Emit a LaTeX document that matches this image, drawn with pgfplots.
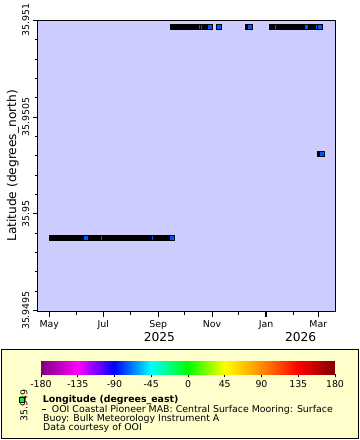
\documentclass[border=0pt]{standalone}
\usepackage{pgfplots}
\pgfplotsset{compat=1.18}
\usepackage{fontspec}
\setmainfont{DejaVu Sans}
\definecolor{plotbg}{RGB}{204,204,255}
\definecolor{legbg}{RGB}{255,255,204}
\definecolor{markblue}{RGB}{0,85,255}
\definecolor{mkgreen}{RGB}{0,255,0}
\newcommand{\sm}{\fontsize{9.4bp}{11bp}\selectfont}
\newcommand{\bg}{\fontsize{12.2bp}{14bp}\selectfont}
% x: days since 2025-05-01; y: latitude offset in micro-degrees above 35.949
\begin{document}
\begin{tikzpicture}
\path[use as bounding box] (0bp,0bp) rectangle (360bp,440bp);
% legend box
\draw[fill=legbg, line width=1bp] (1.5bp,1.7bp) rectangle (358bp,90.7bp);
% colour bar
\begin{axis}[at={(41bp,65.7bp)}, anchor=south west, width=294bp, height=13.6bp, scale only axis,
  xmin=-180, xmax=180, ymin=0, ymax=1,
  axis line style={draw=none}, ytick=\empty,
  xtick={-180,-135,-90,-45,0,45,90,135,180},
  xticklabels={-180,-135,-90,-45,0,45,90,135,180},
  xtick pos=bottom, tick align=outside, major tick length=3bp,
  tick style={black, line width=0.8bp},
  xticklabel style={font=\sm},
  colormap={erddap}{rgb255(0)=(128,0,128) rgb255(1)=(255,0,255) rgb255(2)=(0,0,255) rgb255(3)=(0,255,255) rgb255(4)=(0,255,0) rgb255(5)=(255,255,0) rgb255(6)=(255,140,0) rgb255(7)=(255,0,0) rgb255(8)=(128,0,0)},
  point meta min=-180, point meta max=180]
\addplot[surf, shader=interp, point meta=x] coordinates {
(-180,0) (-135,0) (-90,0) (-45,0) (0,0) (45,0) (90,0) (135,0) (180,0)

(-180,1) (-135,1) (-90,1) (-45,1) (0,1) (45,1) (90,1) (135,1) (180,1)
};
\end{axis}
% main axis
\begin{axis}[at={(37.7bp,128.3bp)}, anchor=south west, width=297.6bp, height=291.4bp, scale only axis,
  xmin=-13.1, xmax=323.2, ymin=494, ymax=2000,
  axis background/.style={fill=plotbg},
  axis line style={line width=1bp},
  xtick={0,61,123,184,304}, xticklabels={May,Jul,Sep,Nov,Mar},
  minor xtick={31,92,153,214,276},
  extra x ticks={245}, extra x tick labels={Jan},
  extra x tick style={tick style={line width=1.8bp}},
  ytick={500,1000,1500,2000}, yticklabels={35.9495,35.95,35.9505,35.951},
  minor ytick={600,700,800,900,1100,1200,1300,1400,1600,1700,1800,1900},
  tick align=outside, xtick pos=bottom, ytick pos=left,
  major tick length=5bp, minor tick length=3bp,
  tick style={black, line width=0.8bp},
  xticklabel style={font=\sm},
  yticklabel style={font=\sm, rotate=90, anchor=south},
  clip mode=individual]
% lower track
\addplot[black, line width=6bp, line cap=rect] coordinates {(3.4,874) (138.3,874)};
% upper track
\addplot[black, line width=6bp, line cap=rect] coordinates {(139.8,1965) (181.3,1965)};
\addplot[black, line width=6bp, line cap=rect] coordinates {(224.5,1965) (226.5,1965)};
\addplot[black, line width=6bp, line cap=rect] coordinates {(251.7,1965) (305.6,1965)};
% middle pair
\addplot[black, line width=6bp, line cap=rect] coordinates {(305.9,1310) (307.8,1310)};
% partial gaps (thin blue slits)
\addplot[only marks, mark=|, mark size=2bp, mark options={draw=markblue, line width=1bp}]
  coordinates {(58.8,874) (116.4,874) (169.2,1965) (171.8,1965) (255.4,1965) (301.4,1965)};
\addplot[only marks, mark=|, mark size=2bp, mark options={draw=markblue, line width=3bp}]
  coordinates {(290.7,1965)};
% fully visible markers
\addplot[only marks, mark=square*, mark size=2.5bp, mark options={fill=markblue, draw=black, line width=1bp}]
  coordinates {(41.5,874) (138.3,874) (181.3,1965) (191.8,1965) (226.5,1965) (305.6,1965) (307.8,1310)};
\end{axis}
\node[font=\bg] at (159.3bp,103bp) {2025};
\node[font=\bg] at (300.7bp,103bp) {2026};
\node[rotate=90, font=\bg] at (13bp,274bp) {Latitude (degrees\_north)};
% legend contents
\node[anchor=base west, inner sep=0, font=\sm\bfseries] at (42.7bp,37.3bp) {Longitude (degrees\_east)};
\draw[line width=0.8bp] (42.3bp,31bp) -- (46.3bp,31bp);
\node[anchor=base west, inner sep=0, font=\sm] at (51.7bp,28bp) {OOI Coastal Pioneer MAB: Central Surface Mooring: Surface};
\node[anchor=base west, inner sep=0, font=\sm] at (43bp,19bp) {Buoy: Bulk Meteorology Instrument A};
\node[anchor=base west, inner sep=0, font=\sm] at (43bp,10bp) {Data courtesy of OOI};
\node[rotate=90, font=\sm, inner sep=0] at (24bp,34.5bp) {35.949};
\draw[fill=mkgreen, line width=1bp] (19.5bp,37.5bp) rectangle (24.5bp,42.5bp);
\end{tikzpicture}
\end{document}
